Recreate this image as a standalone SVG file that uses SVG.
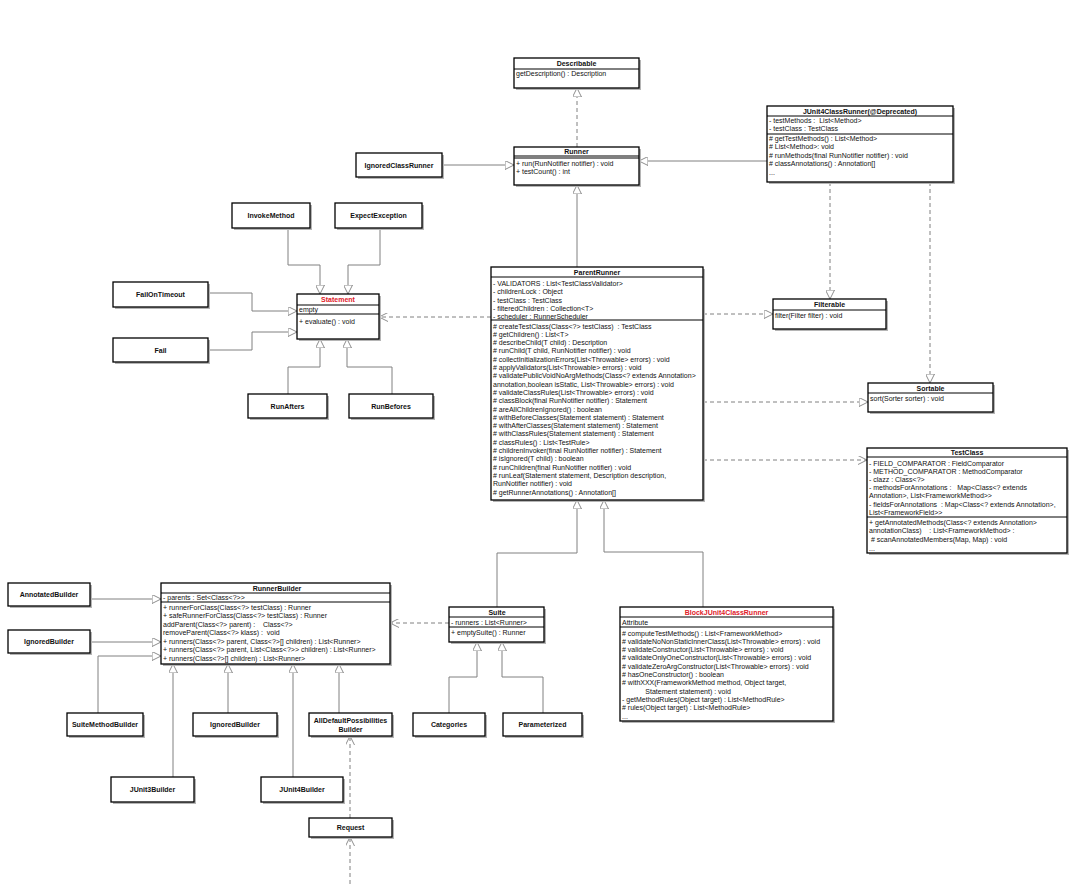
<svg xmlns="http://www.w3.org/2000/svg" width="1080" height="884" viewBox="0 0 1080 884">
<style>
.box{fill:#fff;stroke:#000;stroke-width:1.3}
.sh{fill:#b5b5b5}
.sep{stroke:#000;stroke-width:1}
.t{font-family:"Liberation Sans",Arial,sans-serif;font-size:7px;fill:#111;white-space:pre}
.b{font-weight:bold;text-anchor:middle}
.red{fill:#e0202a}
.c{fill:none;stroke:#808080;stroke-width:1}
.d{stroke-dasharray:4,3}
</style>
<defs>
<marker id="tri" viewBox="0 0 10 10" refX="10" refY="5" markerWidth="9" markerHeight="9" markerUnits="userSpaceOnUse" orient="auto">
<path d="M0,0 L10,5 L0,10 z" fill="#fff" stroke="#808080" stroke-width="1" stroke-dasharray="none"/>
</marker>
<marker id="open" viewBox="0 0 10 10" refX="10" refY="5" markerWidth="9" markerHeight="9" markerUnits="userSpaceOnUse" orient="auto">
<path d="M0,0 L10,5 L0,10" fill="none" stroke="#808080" stroke-width="1" stroke-dasharray="none"/>
</marker>
</defs>
<rect width="1080" height="884" fill="#fff"/>

<g id="connectors">
<path class="c d" d="M577,147 L577,88" marker-end="url(#tri)"/>
<path class="c" d="M577,267 L577,185" marker-end="url(#tri)"/>
<path class="c" d="M442,165 L514,165" marker-end="url(#tri)"/>
<path class="c" d="M767,161 L639,161" marker-end="url(#tri)"/>
<path class="c d" d="M830,182 L830,299" marker-end="url(#tri)"/>
<path class="c d" d="M930,182 L930,383" marker-end="url(#tri)"/>
<path class="c d" d="M703,314 L773,314" marker-end="url(#tri)"/>
<path class="c d" d="M703,402 L868,402" marker-end="url(#tri)"/>
<path class="c d" d="M703,460 L867,460" marker-end="url(#open)"/>
<path class="c d" d="M491,317 L379,317" marker-end="url(#open)"/>
<path class="c" d="M288,228 L288,265 L320,265 L320,294" marker-end="url(#tri)"/>
<path class="c" d="M380,228 L380,265 L348,265 L348,294" marker-end="url(#tri)"/>
<path class="c" d="M208,293 L252,293 L252,311 L297,311" marker-end="url(#tri)"/>
<path class="c" d="M208,350 L252,350 L252,332 L297,332" marker-end="url(#tri)"/>
<path class="c" d="M288,394 L288,367 L320,367 L320,339" marker-end="url(#tri)"/>
<path class="c" d="M392,394 L392,367 L347,367 L347,339" marker-end="url(#tri)"/>
<path class="c" d="M497,607 L497,553 L577,553 L577,500" marker-end="url(#tri)"/>
<path class="c" d="M703,607 L703,552 L604,552 L604,500" marker-end="url(#tri)"/>
<path class="c d" d="M449,623 L390,623" marker-end="url(#open)"/>
<path class="c" d="M449,713 L449,677 L477,677 L477,642" marker-end="url(#tri)"/>
<path class="c" d="M543,713 L543,677 L502,677 L502,642" marker-end="url(#tri)"/>
<path class="c" d="M90,599 L161,599" marker-end="url(#tri)"/>
<path class="c" d="M90,642 L161,642" marker-end="url(#tri)"/>
<path class="c" d="M98,713 L98,656 L161,656" marker-end="url(#tri)"/>
<path class="c" d="M173,777 L173,664" marker-end="url(#tri)"/>
<path class="c" d="M228,713 L228,664" marker-end="url(#tri)"/>
<path class="c" d="M293,777 L293,664" marker-end="url(#tri)"/>
<path class="c" d="M339,713 L339,664" marker-end="url(#tri)"/>
<path class="c d" d="M350,818 L350,736" marker-end="url(#open)"/>
<path class="c d" d="M350,884 L350,837" marker-end="url(#open)"/>
</g>

<g id="Describable">
<rect class="sh" x="516" y="60" width="125" height="30"/>
<rect class="box" x="514" y="58" width="125" height="30"/>
<line class="sep" x1="514" y1="69" x2="639" y2="69"/>
<text class="t b" x="576.5" y="66">Describable</text>
<text class="t" x="516" y="76">getDescription() : Description</text>
</g>

<g id="Runner">
<rect class="sh" x="516" y="149" width="125" height="38"/>
<rect class="box" x="514" y="147" width="125" height="38"/>
<line class="sep" x1="514" y1="156" x2="639" y2="156"/>
<line class="sep" x1="514" y1="158" x2="639" y2="158"/>
<text class="t b" x="576.5" y="154">Runner</text>
<text class="t" x="516" y="166">+ run(RunNotifier notifier) : void</text>
<text class="t" x="516" y="174">+ testCount() : int</text>
</g>

<g id="IgnoredClassRunner">
<rect class="sh" x="358" y="155" width="86" height="24"/>
<rect class="box" x="356" y="153" width="86" height="24"/>
<text class="t b" x="399" y="167.5">IgnoredClassRunner</text>
</g>

<g id="JUnit4ClassRunner">
<rect class="sh" x="769" y="108" width="186" height="76"/>
<rect class="box" x="767" y="106" width="186" height="76"/>
<line class="sep" x1="767" y1="116" x2="953" y2="116"/>
<line class="sep" x1="767" y1="134" x2="953" y2="134"/>
<text class="t b" x="860" y="113.5">JUnit4ClassRunner(@Deprecated)</text>
<text class="t" x="769" y="123">- testMethods :  List&lt;Method&gt;</text>
<text class="t" x="769" y="131">- testClass : TestClass</text>
<text class="t" x="769" y="141"># getTestMethods() : List&lt;Method&gt;</text>
<text class="t" x="769" y="149"># List&lt;Method&gt;: void</text>
<text class="t" x="769" y="158"># runMethods(final RunNotifier notifier) : void</text>
<text class="t" x="769" y="166"># classAnnotations() : Annotation[]</text>
<text class="t" x="769" y="175">...</text>
</g>

<g id="ParentRunner">
<rect class="sh" x="493" y="269" width="212" height="233"/>
<rect class="box" x="491" y="267" width="212" height="233"/>
<line class="sep" x1="491" y1="277" x2="703" y2="277"/>
<line class="sep" x1="491" y1="320" x2="703" y2="320"/>
<text class="t b" x="597" y="274.5">ParentRunner</text>
<text class="t" x="493" y="286">- VALIDATORS : List&lt;TestClassValidator&gt;</text>
<text class="t" x="493" y="294.2">- childrenLock : Object</text>
<text class="t" x="493" y="302.5">- testClass : TestClass</text>
<text class="t" x="493" y="310.7">- filteredChildren : Collection&lt;T&gt;</text>
<text class="t" x="493" y="318.9">- scheduler : RunnerScheduler</text>
<text class="t" x="493" y="328.5"># createTestClass(Class&lt;?&gt; testClass)  : TestClass</text>
<text class="t" x="493" y="336.8"># getChildren() : List&lt;T&gt;</text>
<text class="t" x="493" y="345.1"># describeChild(T child) : Description</text>
<text class="t" x="493" y="353.4"># runChild(T child, RunNotifier notifier) : void</text>
<text class="t" x="493" y="361.7"># collectInitializationErrors(List&lt;Throwable&gt; errors) : void</text>
<text class="t" x="493" y="370"># applyValidators(List&lt;Throwable&gt; errors) : void</text>
<text class="t" x="493" y="378.3"># validatePublicVoidNoArgMethods(Class&lt;? extends Annotation&gt;</text>
<text class="t" x="493" y="386.6">annotation,boolean isStatic, List&lt;Throwable&gt; errors) : void</text>
<text class="t" x="493" y="394.9"># validateClassRules(List&lt;Throwable&gt; errors) : void</text>
<text class="t" x="493" y="403.2"># classBlock(final RunNotifier notifier) : Statement</text>
<text class="t" x="493" y="411.5"># areAllChildrenIgnored() : boolean</text>
<text class="t" x="493" y="419.8"># withBeforeClasses(Statement statement) : Statement</text>
<text class="t" x="493" y="428.1"># withAfterClasses(Statement statement) : Statement</text>
<text class="t" x="493" y="436.4"># withClassRules(Statement statement) : Statement</text>
<text class="t" x="493" y="444.7"># classRules() : List&lt;TestRule&gt;</text>
<text class="t" x="493" y="453"># childrenInvoker(final RunNotifier notifier) : Statement</text>
<text class="t" x="493" y="461.3"># isIgnored(T child) : boolean</text>
<text class="t" x="493" y="469.6"># runChildren(final RunNotifier notifier) : void</text>
<text class="t" x="493" y="477.9"># runLeaf(Statement statement, Description description,</text>
<text class="t" x="493" y="486.2">RunNotifier notifier) : void</text>
<text class="t" x="493" y="494.5"># getRunnerAnnotations() : Annotation[]</text>
</g>

<g id="Statement">
<rect class="sh" x="299" y="296" width="82" height="45"/>
<rect class="box" x="297" y="294" width="82" height="45"/>
<line class="sep" x1="297" y1="305" x2="379" y2="305"/>
<line class="sep" x1="297" y1="314" x2="379" y2="314"/>
<text class="t b red" x="338" y="302">Statement</text>
<text class="t" x="299" y="312">empty</text>
<text class="t" x="299" y="324">+ evaluate() : void</text>
</g>

<g id="InvokeMethod">
<rect class="sh" x="234" y="205" width="78" height="25"/>
<rect class="box" x="232" y="203" width="78" height="25"/>
<text class="t b" x="271" y="218">InvokeMethod</text>
</g>
<g id="ExpectException">
<rect class="sh" x="337" y="205" width="87" height="25"/>
<rect class="box" x="335" y="203" width="87" height="25"/>
<text class="t b" x="378.5" y="218">ExpectException</text>
</g>
<g id="FailOnTimeout">
<rect class="sh" x="115" y="284" width="95" height="25"/>
<rect class="box" x="113" y="282" width="95" height="25"/>
<text class="t b" x="160.5" y="297">FailOnTimeout</text>
</g>
<g id="Fail">
<rect class="sh" x="115" y="340" width="95" height="24"/>
<rect class="box" x="113" y="338" width="95" height="24"/>
<text class="t b" x="160.5" y="352.5">Fail</text>
</g>
<g id="RunAfters">
<rect class="sh" x="250" y="396" width="79" height="24"/>
<rect class="box" x="248" y="394" width="79" height="24"/>
<text class="t b" x="287.5" y="408.5">RunAfters</text>
</g>
<g id="RunBefores">
<rect class="sh" x="351" y="396" width="84" height="24"/>
<rect class="box" x="349" y="394" width="84" height="24"/>
<text class="t b" x="391" y="408.5">RunBefores</text>
</g>

<g id="Filterable">
<rect class="sh" x="775" y="301" width="113" height="30"/>
<rect class="box" x="773" y="299" width="113" height="30"/>
<line class="sep" x1="773" y1="310" x2="886" y2="310"/>
<text class="t b" x="829.5" y="307">Filterable</text>
<text class="t" x="775" y="318">filter(Filter filter) : void</text>
</g>

<g id="Sortable">
<rect class="sh" x="870" y="385" width="125" height="29"/>
<rect class="box" x="868" y="383" width="125" height="29"/>
<line class="sep" x1="868" y1="393" x2="993" y2="393"/>
<text class="t b" x="930.5" y="391">Sortable</text>
<text class="t" x="870" y="401">sort(Sorter sorter) : void</text>
</g>

<g id="TestClass">
<rect class="sh" x="869" y="450" width="200" height="105"/>
<rect class="box" x="867" y="448" width="200" height="105"/>
<line class="sep" x1="867" y1="457" x2="1067" y2="457"/>
<line class="sep" x1="867" y1="517" x2="1067" y2="517"/>
<text class="t b" x="967" y="455">TestClass</text>
<text class="t" x="869" y="465.5">- FIELD_COMPARATOR : FieldComparator</text>
<text class="t" x="869" y="473.5">- METHOD_COMPARATOR : MethodComparator</text>
<text class="t" x="869" y="481.5">- clazz : Class&lt;?&gt;</text>
<text class="t" x="869" y="490">- methodsForAnnotations :   Map&lt;Class&lt;? extends</text>
<text class="t" x="869" y="498">Annotation&gt;, List&lt;FrameworkMethod&gt;&gt;</text>
<text class="t" x="869" y="506.5">- fieldsForAnnotations  : Map&lt;Class&lt;? extends Annotation&gt;,</text>
<text class="t" x="869" y="514.5">List&lt;FrameworkField&gt;&gt;</text>
<text class="t" x="869" y="525">+ getAnnotatedMethods(Class&lt;? extends Annotation&gt;</text>
<text class="t" x="869" y="533">annotationClass)    : List&lt;FrameworkMethod&gt; :</text>
<text class="t" x="869" y="542"> # scanAnnotatedMembers(Map, Map) : void</text>
<text class="t" x="869" y="550.5">...</text>
</g>

<g id="RunnerBuilder">
<rect class="sh" x="163" y="585" width="229" height="81"/>
<rect class="box" x="161" y="583" width="229" height="81"/>
<line class="sep" x1="161" y1="593" x2="390" y2="593"/>
<line class="sep" x1="161" y1="602" x2="390" y2="602"/>
<text class="t b" x="277" y="590.5">RunnerBuilder</text>
<text class="t" x="163" y="600">- parents : Set&lt;Class&lt;?&gt;&gt;</text>
<text class="t" x="163" y="609.5">+ runnerForClass(Class&lt;?&gt; testClass) : Runner</text>
<text class="t" x="163" y="618">+ safeRunnerForClass(Class&lt;?&gt; testClass) : Runner</text>
<text class="t" x="163" y="626.5">addParent(Class&lt;?&gt; parent) :    Class&lt;?&gt;</text>
<text class="t" x="163" y="635">removeParent(Class&lt;?&gt; klass) :  void</text>
<text class="t" x="163" y="643.5">+ runners(Class&lt;?&gt; parent, Class&lt;?&gt;[] children) : List&lt;Runner&gt;</text>
<text class="t" x="163" y="652">+ runners(Class&lt;?&gt; parent, List&lt;Class&lt;?&gt;&gt; children) : List&lt;Runner&gt;</text>
<text class="t" x="163" y="660.5">+ runners(Class&lt;?&gt;[] children) : List&lt;Runner&gt;</text>
</g>

<g id="AnnotatedBuilder">
<rect class="sh" x="10" y="585" width="82" height="23"/>
<rect class="box" x="8" y="583" width="82" height="23"/>
<text class="t b" x="49" y="597">AnnotatedBuilder</text>
</g>
<g id="IgnoredBuilder1">
<rect class="sh" x="10" y="632" width="82" height="23"/>
<rect class="box" x="8" y="630" width="82" height="23"/>
<text class="t b" x="49" y="644">IgnoredBuilder</text>
</g>
<g id="SuiteMethodBuilder">
<rect class="sh" x="69" y="715" width="76" height="23"/>
<rect class="box" x="67" y="713" width="76" height="23"/>
<text class="t b" x="105" y="727">SuiteMethodBuilder</text>
</g>
<g id="IgnoredBuilder2">
<rect class="sh" x="195" y="715" width="84" height="23"/>
<rect class="box" x="193" y="713" width="84" height="23"/>
<text class="t b" x="235" y="727">IgnoredBuilder</text>
</g>
<g id="AllDefaultPossibilitiesBuilder">
<rect class="sh" x="311" y="715" width="83" height="23"/>
<rect class="box" x="309" y="713" width="83" height="23"/>
<text class="t b" x="350.5" y="723">AllDefaultPossibilities</text>
<text class="t b" x="350.5" y="731.5">Builder</text>
</g>
<g id="JUnit3Builder">
<rect class="sh" x="113" y="779" width="83" height="25"/>
<rect class="box" x="111" y="777" width="83" height="25"/>
<text class="t b" x="152.5" y="792">JUnit3Builder</text>
</g>
<g id="JUnit4Builder">
<rect class="sh" x="263" y="779" width="82" height="25"/>
<rect class="box" x="261" y="777" width="82" height="25"/>
<text class="t b" x="302" y="792">JUnit4Builder</text>
</g>
<g id="Request">
<rect class="sh" x="311" y="820" width="83" height="19"/>
<rect class="box" x="309" y="818" width="83" height="19"/>
<text class="t b" x="350.5" y="830">Request</text>
</g>

<g id="Suite">
<rect class="sh" x="451" y="609" width="95" height="35"/>
<rect class="box" x="449" y="607" width="95" height="35"/>
<line class="sep" x1="449" y1="617" x2="544" y2="617"/>
<line class="sep" x1="449" y1="627" x2="544" y2="627"/>
<text class="t b" x="497" y="614.5">Suite</text>
<text class="t" x="451" y="624.5">- runners : List&lt;Runner&gt;</text>
<text class="t" x="451" y="635">+ emptySuite() : Runner</text>
</g>
<g id="Categories">
<rect class="sh" x="415" y="715" width="72" height="23"/>
<rect class="box" x="413" y="713" width="72" height="23"/>
<text class="t b" x="449" y="727">Categories</text>
</g>
<g id="Parameterized">
<rect class="sh" x="505" y="715" width="79" height="23"/>
<rect class="box" x="503" y="713" width="79" height="23"/>
<text class="t b" x="542.5" y="727">Parameterized</text>
</g>

<g id="BlockJUnit4ClassRunner">
<rect class="sh" x="622" y="609" width="213" height="114"/>
<rect class="box" x="620" y="607" width="213" height="114"/>
<line class="sep" x1="620" y1="617" x2="833" y2="617"/>
<line class="sep" x1="620" y1="627" x2="833" y2="627"/>
<text class="t b red" x="726.5" y="614.5">BlockJUnit4ClassRunner</text>
<text class="t" x="622" y="624.5">Attribute</text>
<text class="t" x="622" y="635.5"># computeTestMethods() : List&lt;FrameworkMethod&gt;</text>
<text class="t" x="622" y="643.8"># validateNoNonStaticInnerClass(List&lt;Throwable&gt; errors) : void</text>
<text class="t" x="622" y="652.1"># validateConstructor(List&lt;Throwable&gt; errors) : void</text>
<text class="t" x="622" y="660.4"># validateOnlyOneConstructor(List&lt;Throwable&gt; errors) : void</text>
<text class="t" x="622" y="668.7"># validateZeroArgConstructor(List&lt;Throwable&gt; errors) : void</text>
<text class="t" x="622" y="677"># hasOneConstructor() : boolean</text>
<text class="t" x="622" y="685.3"># withXXX(FrameworkMethod method, Object target,</text>
<text class="t" x="622" y="693.6">            Statement statement) : void</text>
<text class="t" x="622" y="701.9">- getMethodRules(Object target) : List&lt;MethodRule&gt;</text>
<text class="t" x="622" y="710.2"># rules(Object target) : List&lt;MethodRule&gt;</text>
<text class="t" x="622" y="718.5">...</text>
</g>
</svg>
